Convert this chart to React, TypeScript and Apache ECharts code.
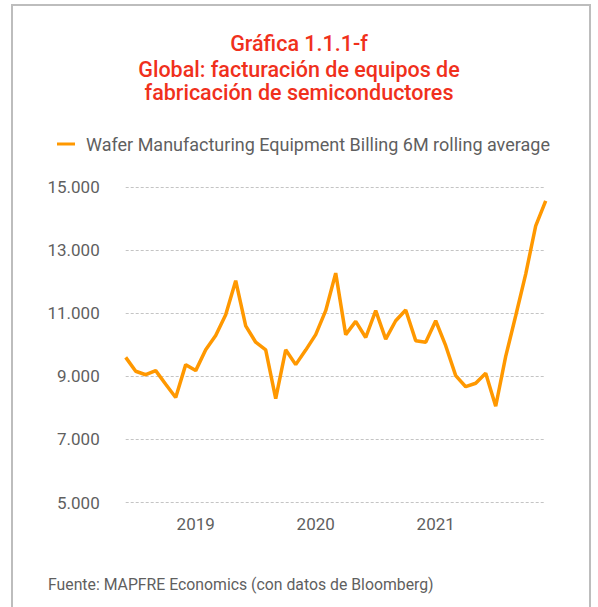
import React, { useEffect, useRef } from "react";
import * as echarts from "echarts";

const months: string[] = [
  "2018-06", "2018-07", "2018-08", "2018-09", "2018-10", "2018-11", "2018-12",
  "2019-01", "2019-02", "2019-03", "2019-04", "2019-05", "2019-06", "2019-07", "2019-08", "2019-09", "2019-10", "2019-11", "2019-12",
  "2020-01", "2020-02", "2020-03", "2020-04", "2020-05", "2020-06", "2020-07", "2020-08", "2020-09", "2020-10", "2020-11", "2020-12",
  "2021-01", "2021-02", "2021-03", "2021-04", "2021-05", "2021-06", "2021-07", "2021-08", "2021-09", "2021-10", "2021-11", "2021-12",
];

const billing: number[] = [
  9600, 9160, 9050, 9180, 8750, 8330, 9370,
  9180, 9840, 10290, 10950, 12030, 10600, 10080, 9840, 8290, 9840, 9370, 9830,
  10320, 11080, 12270, 10320, 10740, 10230, 11080, 10180, 10760, 11100, 10130, 10080,
  10760, 9970, 9020, 8670, 8780, 9100, 8050, 9630, 10920, 12240, 13770, 14560,
];

const seriesName = "Wafer Manufacturing Equipment Billing 6M rolling average";
const titleLines: string[] = [
  "Gráfica 1.1.1-f",
  "Global: facturación de equipos de",
  "fabricación de semiconductores",
];
const sourceText = "Fuente: MAPFRE Economics (con datos de Bloomberg)";

const FONT = "Roboto, 'Noto Sans', sans-serif";
const RED = "#f0301c";
const ORANGE = "#ff9800";
const GRAY = "#5f5f5f";

export default function App() {
  const ref = useRef<HTMLDivElement>(null);
  useEffect(() => {
    document.body.style.margin = "0";
    if (!ref.current) return;
    const chart = echarts.init(ref.current, null, { renderer: "svg" });
    const titleText = (text: string, y: number) => ({
      type: "text",
      x: 299,
      y,
      style: {
        text,
        fill: RED,
        font: `500 21.5px ${FONT}`,
        textAlign: "center",
        textVerticalAlign: "middle",
      },
    });
    chart.setOption({
      animation: false,
      backgroundColor: "#ffffff",
      textStyle: { fontFamily: FONT },
      graphic: [
        {
          type: "rect",
          shape: { x: 12, y: 5, width: 578, height: 640 },
          style: { fill: "none", stroke: "#bdbdbd", lineWidth: 2 },
          silent: true,
        },
        titleText(titleLines[0], 43),
        titleText(titleLines[1], 69),
        titleText(titleLines[2], 92),
        {
          type: "text",
          x: 48,
          y: 584,
          style: {
            text: sourceText,
            fill: GRAY,
            font: `15.8px ${FONT}`,
            textAlign: "left",
            textVerticalAlign: "middle",
          },
        },
      ],
      legend: {
        left: 57,
        top: 135,
        padding: 0,
        icon: "rect",
        itemWidth: 18,
        itemHeight: 3,
        textStyle: { color: GRAY, fontSize: 18, fontFamily: FONT, padding: [0, 0, 0, 6] },
        data: [seriesName],
      },
      grid: { left: 125.7, right: 52.3, top: 187, bottom: 104.5, containLabel: false },
      xAxis: {
        type: "category",
        data: months,
        boundaryGap: false,
        axisLine: { show: false },
        axisTick: { show: false },
        splitLine: { show: false },
        axisLabel: {
          interval: (_i: number, v: string) => v.endsWith("-01"),
          formatter: (v: string) => v.slice(0, 4),
          color: GRAY,
          fontSize: 17,
          margin: 13,
          fontFamily: FONT,
        },
      },
      yAxis: {
        type: "value",
        min: 5000,
        max: 15000,
        interval: 2000,
        axisLine: { show: false },
        axisTick: { show: false },
        axisLabel: {
          color: GRAY,
          fontSize: 17,
          margin: 26,
          fontFamily: FONT,
          formatter: (v: number) => v.toLocaleString("de-DE"),
        },
        splitLine: { lineStyle: { color: "#c4c4c4", type: [3, 2], width: 1 } },
      },
      series: [
        {
          name: seriesName,
          type: "line",
          data: billing,
          showSymbol: false,
          symbol: "none",
          lineStyle: { color: ORANGE, width: 3.5 },
          itemStyle: { color: ORANGE },
        },
      ],
    });
    return () => chart.dispose();
  }, []);
  return <div ref={ref} style={{ width: 598, height: 607 }} />;
}
